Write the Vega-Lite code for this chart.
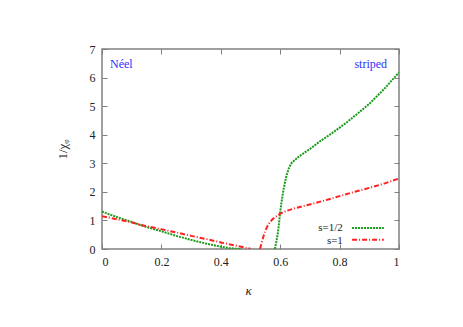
{
  "$schema": "https://vega.github.io/schema/vega-lite/v6.json",
  "autosize": "none",
  "width": 297,
  "height": 200,
  "padding": {"left": 102, "top": 49, "right": 64, "bottom": 78},
  "background": "white",
  "config": {
    "font": "Times New Roman, Liberation Serif, serif",
    "view": {"stroke": "#808080", "strokeWidth": 1.5},
    "axis": {
      "grid": false,
      "domain": false,
      "tickColor": "#808080",
      "tickWidth": 1,
      "tickSize": -5,
      "labelFont": "Times New Roman, Liberation Serif, serif",
      "labelFontSize": 12,
      "labelColor": "#222222",
      "titleFont": "Times New Roman, Liberation Serif, serif",
      "titleFontSize": 13,
      "titleFontWeight": "normal",
      "titleColor": "#222222"
    }
  },
  "datasets": {
    "one": [{}],
    "curves": [
      {"kappa": 0, "v": 1.31, "s": "s=1/2", "seg": "g1"},
      {"kappa": 0.025, "v": 1.21, "s": "s=1/2", "seg": "g1"},
      {"kappa": 0.05, "v": 1.12, "s": "s=1/2", "seg": "g1"},
      {"kappa": 0.075, "v": 1.03, "s": "s=1/2", "seg": "g1"},
      {"kappa": 0.1, "v": 0.95, "s": "s=1/2", "seg": "g1"},
      {"kappa": 0.128, "v": 0.84, "s": "s=1/2", "seg": "g1"},
      {"kappa": 0.15, "v": 0.77, "s": "s=1/2", "seg": "g1"},
      {"kappa": 0.2, "v": 0.62, "s": "s=1/2", "seg": "g1"},
      {"kappa": 0.25, "v": 0.46, "s": "s=1/2", "seg": "g1"},
      {"kappa": 0.3, "v": 0.32, "s": "s=1/2", "seg": "g1"},
      {"kappa": 0.35, "v": 0.19, "s": "s=1/2", "seg": "g1"},
      {"kappa": 0.4, "v": 0.08, "s": "s=1/2", "seg": "g1"},
      {"kappa": 0.43, "v": 0.03, "s": "s=1/2", "seg": "g1"},
      {"kappa": 0.45, "v": 0.01, "s": "s=1/2", "seg": "g1"},
      {"kappa": 0.47, "v": 0.0, "s": "s=1/2", "seg": "g1"},
      {"kappa": 0.582, "v": 0.0, "s": "s=1/2", "seg": "g2"},
      {"kappa": 0.587, "v": 0.25, "s": "s=1/2", "seg": "g2"},
      {"kappa": 0.592, "v": 0.55, "s": "s=1/2", "seg": "g2"},
      {"kappa": 0.596, "v": 0.9, "s": "s=1/2", "seg": "g2"},
      {"kappa": 0.6, "v": 1.3, "s": "s=1/2", "seg": "g2"},
      {"kappa": 0.605, "v": 1.68, "s": "s=1/2", "seg": "g2"},
      {"kappa": 0.611, "v": 2.07, "s": "s=1/2", "seg": "g2"},
      {"kappa": 0.617, "v": 2.38, "s": "s=1/2", "seg": "g2"},
      {"kappa": 0.622, "v": 2.6, "s": "s=1/2", "seg": "g2"},
      {"kappa": 0.63, "v": 2.85, "s": "s=1/2", "seg": "g2"},
      {"kappa": 0.639, "v": 3.02, "s": "s=1/2", "seg": "g2"},
      {"kappa": 0.65, "v": 3.12, "s": "s=1/2", "seg": "g2"},
      {"kappa": 0.661, "v": 3.22, "s": "s=1/2", "seg": "g2"},
      {"kappa": 0.68, "v": 3.36, "s": "s=1/2", "seg": "g2"},
      {"kappa": 0.7, "v": 3.5, "s": "s=1/2", "seg": "g2"},
      {"kappa": 0.734, "v": 3.77, "s": "s=1/2", "seg": "g2"},
      {"kappa": 0.76, "v": 3.95, "s": "s=1/2", "seg": "g2"},
      {"kappa": 0.79, "v": 4.17, "s": "s=1/2", "seg": "g2"},
      {"kappa": 0.82, "v": 4.4, "s": "s=1/2", "seg": "g2"},
      {"kappa": 0.85, "v": 4.65, "s": "s=1/2", "seg": "g2"},
      {"kappa": 0.9, "v": 5.08, "s": "s=1/2", "seg": "g2"},
      {"kappa": 0.95, "v": 5.6, "s": "s=1/2", "seg": "g2"},
      {"kappa": 1.0, "v": 6.18, "s": "s=1/2", "seg": "g2"},
      {"kappa": 0, "v": 1.15, "s": "s=1", "seg": "r1"},
      {"kappa": 0.05, "v": 1.04, "s": "s=1", "seg": "r1"},
      {"kappa": 0.1, "v": 0.93, "s": "s=1", "seg": "r1"},
      {"kappa": 0.128, "v": 0.85, "s": "s=1", "seg": "r1"},
      {"kappa": 0.15, "v": 0.8, "s": "s=1", "seg": "r1"},
      {"kappa": 0.2, "v": 0.69, "s": "s=1", "seg": "r1"},
      {"kappa": 0.25, "v": 0.58, "s": "s=1", "seg": "r1"},
      {"kappa": 0.3, "v": 0.46, "s": "s=1", "seg": "r1"},
      {"kappa": 0.35, "v": 0.35, "s": "s=1", "seg": "r1"},
      {"kappa": 0.4, "v": 0.23, "s": "s=1", "seg": "r1"},
      {"kappa": 0.45, "v": 0.12, "s": "s=1", "seg": "r1"},
      {"kappa": 0.5, "v": 0.01, "s": "s=1", "seg": "r1"},
      {"kappa": 0.532, "v": 0.0, "s": "s=1", "seg": "r2"},
      {"kappa": 0.537, "v": 0.2, "s": "s=1", "seg": "r2"},
      {"kappa": 0.543, "v": 0.42, "s": "s=1", "seg": "r2"},
      {"kappa": 0.549, "v": 0.62, "s": "s=1", "seg": "r2"},
      {"kappa": 0.557, "v": 0.8, "s": "s=1", "seg": "r2"},
      {"kappa": 0.566, "v": 0.95, "s": "s=1", "seg": "r2"},
      {"kappa": 0.575, "v": 1.05, "s": "s=1", "seg": "r2"},
      {"kappa": 0.585, "v": 1.13, "s": "s=1", "seg": "r2"},
      {"kappa": 0.6, "v": 1.24, "s": "s=1", "seg": "r2"},
      {"kappa": 0.62, "v": 1.33, "s": "s=1", "seg": "r2"},
      {"kappa": 0.65, "v": 1.43, "s": "s=1", "seg": "r2"},
      {"kappa": 0.7, "v": 1.56, "s": "s=1", "seg": "r2"},
      {"kappa": 0.75, "v": 1.7, "s": "s=1", "seg": "r2"},
      {"kappa": 0.8, "v": 1.85, "s": "s=1", "seg": "r2"},
      {"kappa": 0.85, "v": 2.0, "s": "s=1", "seg": "r2"},
      {"kappa": 0.9, "v": 2.14, "s": "s=1", "seg": "r2"},
      {"kappa": 0.95, "v": 2.29, "s": "s=1", "seg": "r2"},
      {"kappa": 1.0, "v": 2.47, "s": "s=1", "seg": "r2"}
    ]
  },
  "resolve": {"axis": {"x": "independent", "y": "independent"}},
  "layer": [
    {
      "data": {"name": "curves"},
      "mark": {"type": "line", "strokeWidth": 2, "clip": true},
      "encoding": {
        "x": {
          "field": "kappa", "type": "quantitative",
          "scale": {"domain": [0, 1], "nice": false, "zero": false},
          "axis": {"orient": "bottom", "values": [0, 0.2, 0.4, 0.6, 0.8, 1], "format": "~g", "labelPadding": 12, "title": "κ", "titleX": 146, "titleY": 41, "titleBaseline": "middle", "titleFontStyle": "italic"}
        },
        "y": {
          "field": "v", "type": "quantitative",
          "scale": {"domain": [0, 7], "nice": false, "zero": false},
          "axis": {"orient": "left", "values": [0, 1, 2, 3, 4, 5, 6, 7], "format": "d", "labelPadding": 12, "title": "1/χᵩ", "titleX": -40, "titleY": 100, "titleAngle": -90, "titleAlign": "center", "titleBaseline": "middle"}
        },
        "color": {"field": "s", "type": "nominal", "scale": {"domain": ["s=1/2", "s=1"], "range": ["#1a9a1a", "#ff2020"]}, "legend": null},
        "strokeDash": {"field": "s", "type": "nominal", "scale": {"domain": ["s=1/2", "s=1"], "range": [[2, 1], [5, 2, 1, 2]]}, "legend": null},
        "detail": {"field": "seg", "type": "nominal"},
        "order": {"field": "kappa", "type": "quantitative"}
      }
    },
    {
      "data": {"name": "one"},
      "mark": {"type": "text", "align": "left", "baseline": "middle", "font": "Times New Roman, Liberation Serif, serif", "fontSize": 12, "color": "#3030ff"},
      "encoding": {
        "x": {"datum": 0.027, "type": "quantitative", "axis": {"orient": "top", "values": [0, 0.2, 0.4, 0.6, 0.8, 1], "labels": false, "title": null}},
        "y": {"datum": 6.48, "type": "quantitative", "axis": {"orient": "right", "values": [0, 1, 2, 3, 4, 5, 6, 7], "labels": false, "title": null}},
        "text": {"datum": "Néel"}
      }
    },
    {
      "data": {"name": "one"},
      "mark": {"type": "text", "align": "right", "baseline": "middle", "font": "Times New Roman, Liberation Serif, serif", "fontSize": 12, "color": "#3030ff"},
      "encoding": {
        "x": {"datum": 0.96, "type": "quantitative", "axis": null},
        "y": {"datum": 6.48, "type": "quantitative", "axis": null},
        "text": {"datum": "striped"}
      }
    },
    {
      "data": {"name": "one"},
      "mark": {"type": "text", "align": "right", "baseline": "middle", "font": "Times New Roman, Liberation Serif, serif", "fontSize": 11, "color": "#222222"},
      "encoding": {
        "x": {"datum": 0.811, "type": "quantitative", "axis": null},
        "y": {"datum": 0.73, "type": "quantitative", "axis": null},
        "text": {"datum": "s=1/2"}
      }
    },
    {
      "data": {"name": "one"},
      "mark": {"type": "text", "align": "right", "baseline": "middle", "font": "Times New Roman, Liberation Serif, serif", "fontSize": 11, "color": "#222222"},
      "encoding": {
        "x": {"datum": 0.811, "type": "quantitative", "axis": null},
        "y": {"datum": 0.29, "type": "quantitative", "axis": null},
        "text": {"datum": "s=1"}
      }
    },
    {
      "data": {"name": "one"},
      "mark": {"type": "rule", "strokeWidth": 2, "color": "#1a9a1a", "strokeDash": [2, 1]},
      "encoding": {
        "x": {"datum": 0.842, "type": "quantitative", "axis": null},
        "x2": {"datum": 0.949},
        "y": {"datum": 0.735, "type": "quantitative", "axis": null}
      }
    },
    {
      "data": {"name": "one"},
      "mark": {"type": "rule", "strokeWidth": 2, "color": "#ff2020", "strokeDash": [5, 2, 1, 2]},
      "encoding": {
        "x": {"datum": 0.842, "type": "quantitative", "axis": null},
        "x2": {"datum": 0.949},
        "y": {"datum": 0.32, "type": "quantitative", "axis": null}
      }
    }
  ]
}
